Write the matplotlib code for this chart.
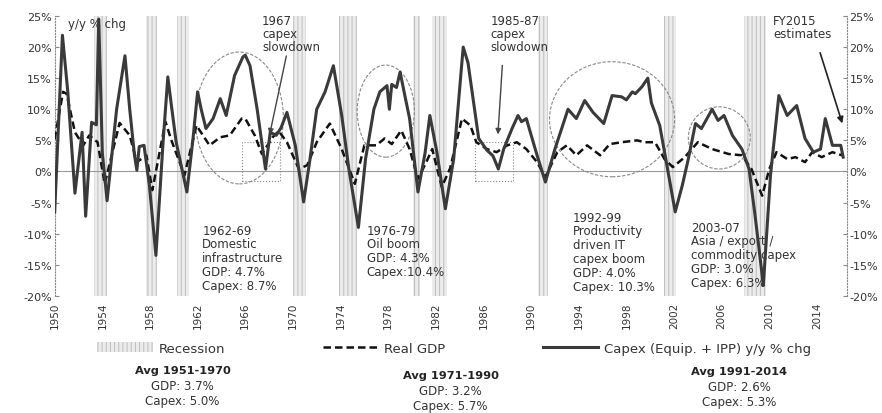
import matplotlib
matplotlib.use("Agg")
import matplotlib.pyplot as plt
from matplotlib.patches import Ellipse, Rectangle, Patch
from matplotlib.lines import Line2D

plt.rcParams['font.family'] = ['DejaVu Sans']
plt.rcParams['hatch.linewidth'] = 0.7

# capex (equipment + IPP) y/y % chg
capex_years = [1950.0, 1950.65, 1951.1, 1951.7, 1952.3, 1952.6, 1953.1, 1953.5, 1953.7, 1954.0,
               1954.4, 1955.2, 1955.9, 1956.3, 1956.7, 1956.9, 1957.1, 1957.5, 1957.95, 1958.5,
               1959.1, 1959.5, 1959.8, 1960.2, 1961.1, 1961.6, 1962.0, 1962.3, 1962.7, 1963.3,
               1963.9, 1964.4, 1965.1, 1965.8, 1966.0, 1966.4, 1967.0, 1967.7, 1968.1, 1968.6,
               1969.0, 1969.5, 1970.2, 1970.9, 1971.4, 1972.0, 1972.7, 1973.4, 1974.1, 1974.7,
               1975.5, 1976.1, 1976.8, 1977.3, 1977.9, 1978.1, 1978.3, 1978.7, 1979.0, 1979.4,
               1979.8, 1980.5, 1981.1, 1981.5, 1982.1, 1982.8, 1983.5, 1984.3, 1984.7, 1985.6,
               1986.3, 1986.8, 1987.25, 1987.7, 1988.4, 1988.9, 1989.2, 1989.6, 1990.5, 1991.2,
               1992.0, 1993.1, 1993.8, 1994.5, 1995.2, 1996.1, 1996.8, 1997.6, 1998.0, 1998.5,
               1998.75, 1999.3, 1999.8, 2000.1, 2000.8, 2001.4, 2002.1, 2002.7, 2003.2, 2003.8,
               2004.3, 2005.2, 2005.7, 2006.2, 2006.9, 2007.7, 2008.3, 2008.8, 2009.5, 2010.1,
               2010.8, 2011.5, 2012.3, 2013.0, 2013.7, 2014.3, 2014.7, 2015.3, 2016.0, 2016.2]
capex_vals = [-6.5, 21.9, 12.8, -3.5, 6.3, -7.2, 7.9, 7.5, 24.5, 3.0,
              -4.7, 10.0, 18.6, 10.0, 2.6, 0.2, 4.0, 4.2, -2.2, -13.5,
              4.7, 15.2, 10.6, 4.7, -3.3, 5.0, 12.8, 10.0, 6.9, 8.5,
              11.7, 9.0, 15.4, 18.4, 18.7, 17.0, 10.0, 0.4, 6.3, 5.8,
              7.0, 9.5, 4.2, -4.9, 1.5, 10.0, 12.8, 17.0, 9.0, 0.4,
              -9.0, 2.0, 10.0, 12.8, 13.8, 10.0, 14.0, 13.5, 16.0, 12.2,
              8.5, -3.3, 3.0, 9.0, 3.0, -6.0, 2.0, 20.0, 17.5, 5.3,
              3.4, 2.5, 0.4, 3.6, 6.9, 9.0, 8.0, 8.5, 2.6, -1.7,
              3.6, 10.0, 8.5, 11.4, 9.5, 7.7, 12.2, 12.0, 11.5, 12.8,
              12.5, 13.6, 15.0, 11.0, 7.4, 1.0, -6.5, -2.2, 2.0, 7.7,
              6.9, 10.0, 8.2, 9.0, 5.8, 3.6, 0.4, -7.0, -18.3, -0.6,
              12.2, 9.0, 10.6, 5.3, 3.1, 3.6, 8.5, 4.2, 4.2, 2.3]

# real GDP y/y % chg
gdp_years = [1950.0, 1950.7, 1951.0, 1951.7, 1952.4, 1952.9, 1953.6, 1954.2, 1955.45, 1956.3,
             1956.9, 1957.7, 1958.2, 1959.3, 1959.8, 1960.9, 1961.9, 1963.0, 1963.9, 1964.7,
             1965.7, 1966.0, 1966.8, 1967.4, 1968.3, 1968.8, 1969.5, 1970.5, 1971.2, 1972.0,
             1973.1, 1974.1, 1975.2, 1976.0, 1977.0, 1977.7, 1978.3, 1979.1, 1979.8, 1980.5,
             1981.2, 1981.7, 1982.5, 1983.2, 1984.2, 1984.9, 1985.4, 1986.3, 1987.1, 1988.0,
             1988.8, 1989.6, 1990.5, 1991.2, 1992.2, 1993.0, 1993.8, 1994.7, 1995.8, 1996.6,
             1997.6, 1998.9, 1999.5, 2000.4, 2001.2, 2001.9, 2002.9, 2004.0, 2005.2, 2006.6,
             2007.7, 2008.5, 2009.4, 2010.0, 2010.6, 2011.5, 2012.2, 2013.0, 2013.6, 2014.4,
             2015.3, 2016.1]
gdp_vals = [5.2, 12.8, 12.5, 6.3, 4.2, 5.8, 4.7, -2.0, 7.8, 5.8,
            1.5, 2.6, -3.0, 8.0, 5.0, -0.6, 7.4, 4.2, 5.5, 5.8,
            8.5, 8.5, 5.8, 2.8, 5.5, 6.5, 4.7, 0.4, 1.0, 4.7,
            7.7, 3.6, -2.0, 4.2, 4.2, 5.3, 4.4, 6.6, 3.6, -1.2,
            1.5, 3.6, -2.5, 0.5, 8.5, 7.4, 4.7, 3.6, 3.1, 4.2,
            4.7, 3.6, 1.5, -0.9, 3.1, 4.2, 2.6, 4.2, 2.6, 4.4,
            4.7, 5.0, 4.7, 4.7, 2.0, 0.7, 2.3, 4.7, 3.6, 2.8,
            2.6, 0.4, -3.9, 0.4, 3.1, 2.0, 2.3, 1.5, 3.1, 2.3,
            3.1, 2.6]

recessions = [(1953.3, 1954.4), (1957.7, 1958.6), (1960.3, 1961.3), (1970.0, 1971.1),
              (1973.9, 1975.4), (1980.1, 1980.7), (1981.7, 1982.9), (1990.6, 1991.4),
              (2001.2, 2002.2), (2007.9, 2009.7)]

xtick_years = list(range(1950, 2015, 4))
ytick_vals = list(range(-20, 30, 5))

txt = '#333333'
band_fc = '#ececec'
band_ec = '#bdbdbd'

fig = plt.figure(figsize=(8.82, 4.14), dpi=100, facecolor='white')
ax = fig.add_axes([0.062, 0.283, 0.898, 0.676])

for a, b in recessions:
    ax.axvspan(a, b, facecolor=band_fc, edgecolor=band_ec, hatch='||||', lw=0, zorder=0)

ax.axhline(0, color='#999999', lw=0.8, zorder=1)
ax.plot(gdp_years, gdp_vals, color='#111111', lw=1.8, ls=(0, (3, 1.6)), zorder=3)
ax.plot(capex_years, capex_vals, color='#3a3a3a', lw=2.2, zorder=4)

ax.set_xlim(1950, 2016.5)
ax.set_ylim(-20, 25)
ax.set_yticks(ytick_vals)
ax.set_yticklabels(['%d%%' % v for v in ytick_vals], fontsize=8, color=txt)
ax.set_xticks(xtick_years)
ax.set_xticklabels([str(y) for y in xtick_years], rotation=90, fontsize=7.5, color=txt)
ax.tick_params(axis='x', length=0, pad=4)
ax.tick_params(axis='y', length=3, color='#888888', direction='in', pad=2)
for s in ['top', 'bottom', 'right']:
    ax.spines[s].set_visible(False)
ax.spines['left'].set_linestyle(':')
ax.spines['left'].set_color('#888888')

ax2 = ax.twinx()
ax2.set_ylim(-20, 25)
ax2.set_yticks(ytick_vals)
ax2.set_yticklabels(['%d%%' % v for v in ytick_vals], fontsize=8, color=txt)
ax2.tick_params(axis='y', length=3, color='#888888', direction='in', pad=2)
for s in ['top', 'bottom', 'left']:
    ax2.spines[s].set_visible(False)
ax2.spines['right'].set_linestyle(':')
ax2.spines['right'].set_color('#888888')

# circled episodes
ell = dict(fill=False, ec='#888888', lw=0.8, ls=(0, (3, 1.5)), zorder=2)
ax.add_patch(Ellipse((1965.5, 8.6), 7.4, 21.2, **ell))
ax.add_patch(Ellipse((1977.8, 9.7), 4.8, 14.8, **ell))
ax.add_patch(Ellipse((1996.8, 8.4), 10.5, 18.5, **ell))
ax.add_patch(Ellipse((2005.8, 5.4), 5.2, 10.0, **ell))
box = dict(fill=False, ec='#888888', lw=0.8, ls=':', zorder=2)
ax.add_patch(Rectangle((1965.7, -1.5), 3.2, 6.2, **box))
ax.add_patch(Rectangle((1985.3, -1.5), 3.2, 6.2, **box))

fs = 8.5
ax.text(1951.1, 24.8, 'y/y % chg', fontsize=fs, color=txt, va='top')
ax.text(1967.4, 25.3, '1967\ncapex\nslowdown', fontsize=fs, color=txt, va='top', linespacing=1.0)
ax.annotate('', xy=(1968.0, 5.5), xytext=(1969.5, 19.0),
            arrowprops=dict(arrowstyle='-|>', color='#444444', lw=1.0, mutation_scale=8))
ax.text(1986.6, 25.3, '1985-87\ncapex\nslowdown', fontsize=fs, color=txt, va='top', linespacing=1.0)
ax.annotate('', xy=(1987.2, 5.5), xytext=(1987.6, 17.5),
            arrowprops=dict(arrowstyle='-|>', color='#444444', lw=1.0, mutation_scale=8))
ax.text(2010.3, 25.3, 'FY2015\nestimates', fontsize=fs, color=txt, va='top', linespacing=1.0)
ax.annotate('', xy=(2016.2, 7.3), xytext=(2014.2, 19.5),
            arrowprops=dict(arrowstyle='-|>', color='#222222', lw=1.2, mutation_scale=9))

ax.text(1962.4, -8.4, '1962-69\nDomestic\ninfrastructure\nGDP: 4.7%\nCapex: 8.7%',
        fontsize=fs, color=txt, va='top', linespacing=1.08)
ax.text(1976.2, -8.4, '1976-79\nOil boom\nGDP: 4.3%\nCapex:10.4%',
        fontsize=fs, color=txt, va='top', linespacing=1.08)
ax.text(1993.5, -6.3, '1992-99\nProductivity\ndriven IT\ncapex boom\nGDP: 4.0%\nCapex: 10.3%',
        fontsize=fs, color=txt, va='top', linespacing=1.08)
ax.text(2003.4, -7.9, '2003-07\nAsia / export /\ncommodity capex\nGDP: 3.0%\nCapex: 6.3%',
        fontsize=fs, color=txt, va='top', linespacing=1.08)

handles = [Patch(facecolor=band_fc, edgecolor=band_ec, hatch='||||', lw=0),
           Line2D([], [], color='#111111', lw=1.8, ls=(0, (3, 1.6))),
           Line2D([], [], color='#3a3a3a', lw=2.2)]
labels = ['Recession', 'Real GDP', 'Capex (Equip. + IPP) y/y % chg']
fig.legend(handles, labels, loc='center', bbox_to_anchor=(0.515, 0.157), ncol=3,
           frameon=False, fontsize=9.5, handlelength=4.2, columnspacing=7.4, handletextpad=0.45,
           labelcolor=txt)

blocks = [(0.207, 0.104, 'Avg 1951-1970', 'GDP: 3.7%', 'Capex: 5.0%'),
          (0.511, 0.092, 'Avg 1971-1990', 'GDP: 3.2%', 'Capex: 5.7%'),
          (0.838, 0.101, 'Avg 1991-2014', 'GDP: 2.6%', 'Capex: 5.3%')]
for x, y, head, g, c in blocks:
    fig.text(x, y, head, fontsize=8.2, fontweight='bold', color='#222222', ha='center', va='center')
    fig.text(x, y - 0.038, g, fontsize=8.5, color=txt, ha='center', va='center')
    fig.text(x, y - 0.073, c, fontsize=8.5, color=txt, ha='center', va='center')

fig.savefig('out.png', dpi=100, facecolor='white')
